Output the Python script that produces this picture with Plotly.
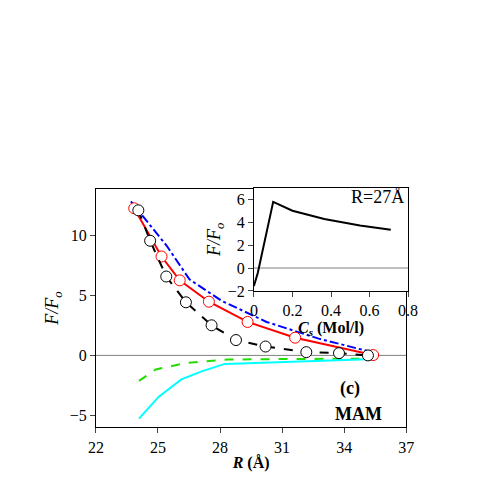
import plotly.graph_objects as go

bx=[24.05,24.62,25.40,26.35,27.59,28.77,30.2,32.17,33.75,35.15]
by=[12.1,9.56,6.58,4.43,2.51,1.28,0.74,0.27,0.19,0.0]
rx=[23.85,25.17,26.05,27.46,29.33,31.63,35.4]
ry=[12.27,8.25,6.26,4.48,2.79,1.48,0.03]
ux=[23.69,25.43,26.52,28.07,30.25,32.73,35.2]
uy=[12.84,9.12,6.34,4.56,2.79,1.42,0.33]
gx=[24.08,24.89,26.36,28.38,31.18,35.6]
gy=[-2.13,-1.17,-0.63,-0.35,-0.3,-0.27]
cx=[24.08,25.04,26.13,27.14,28.23,31.18,35.5]
cy=[-5.27,-3.44,-2.0,-1.31,-0.71,-0.55,-0.3]
ix=[0.0,0.02,0.1,0.2,0.365,0.55,0.71]
iy=[-1.57,-0.43,5.77,5.0,4.28,3.71,3.34]

F="Liberation Serif"
fig=go.Figure()
fig.add_trace(go.Scatter(x=ux,y=uy,mode="lines",line=dict(color="blue",width=2,dash="dashdot")))
fig.add_trace(go.Scatter(x=gx,y=gy,mode="lines",line=dict(color="#22dd00",width=2,dash="dash")))
fig.add_trace(go.Scatter(x=cx,y=cy,mode="lines",line=dict(color="cyan",width=2)))
fig.add_trace(go.Scatter(x=rx,y=ry,mode="lines+markers",line=dict(color="red",width=2),
    marker=dict(symbol="circle",size=11,color="white",line=dict(color="red",width=1))))
fig.add_trace(go.Scatter(x=bx,y=by,mode="lines+markers",line=dict(color="black",width=2,dash="dash"),
    marker=dict(symbol="circle",size=11,color="white",line=dict(color="black",width=1))))
fig.add_trace(go.Scatter(x=ix,y=iy,mode="lines",line=dict(color="black",width=2),xaxis="x2",yaxis="y2"))

ax=dict(showgrid=False,zeroline=False,showline=True,linecolor="black",mirror=True,ticks="outside",
        tickfont=dict(family=F,size=16,color="black"))
fig.update_layout(width=491,height=491,margin=dict(l=0,r=0,t=0,b=0),plot_bgcolor="white",paper_bgcolor="white",
    showlegend=False,font=dict(family=F,color="black"),
    xaxis=dict(ax,domain=[0.169,0.825],range=[22,37],tickvals=[22,25,28,31,34,37],
        title=dict(text="<b><i>R</i> (Å)</b>",font=dict(family=F,size=16),standoff=2)),
    yaxis=dict(ax,domain=[0.130,0.625],range=[-6,13.9],tickvals=[-5,0,5,10],
        title=dict(text="<i>F/F<sub>o</sub></i>",font=dict(family=F,size=18),standoff=6)),
    xaxis2=dict(ax,domain=[0.503,0.829],range=[0,0.8],tickvals=[0,0.2,0.4,0.6,0.8],anchor="y2",
        title=dict(text="<b><i>C<sub>s</sub></i> (Mol/l)</b>",font=dict(family=F,size=16),standoff=2)),
    yaxis2=dict(ax,domain=[0.413,0.627],range=[-2,7],tickvals=[-2,0,2,4,6],anchor="x2",
        title=dict(text="<i>F/F<sub>o</sub></i>",font=dict(family=F,size=18),standoff=2)),
    shapes=[dict(type="line",xref="x",yref="y",x0=22,x1=37,y0=0,y1=0,line=dict(color="gray",width=1),layer="below"),
            dict(type="line",xref="x2",yref="y2",x0=0,x1=0.8,y0=0,y1=0,line=dict(color="gray",width=1),layer="below"),
            dict(type="rect",xref="paper",yref="paper",x0=0.503,x1=0.829,y0=0.413,y1=0.627,fillcolor="white",line=dict(width=0),layer="below")],
    annotations=[dict(x=34.7,y=-4.9,xref="x",yref="y",text="<b>MAM</b>",showarrow=False,font=dict(family=F,size=18)),
                 dict(x=34.3,y=-2.8,xref="x",yref="y",text="<b>(c)</b>",showarrow=False,font=dict(family=F,size=18)),
                 dict(x=0.64,y=6.2,xref="x2",yref="y2",text="R=27Å",showarrow=False,font=dict(family=F,size=18))])
fig.write_html("out.html")
